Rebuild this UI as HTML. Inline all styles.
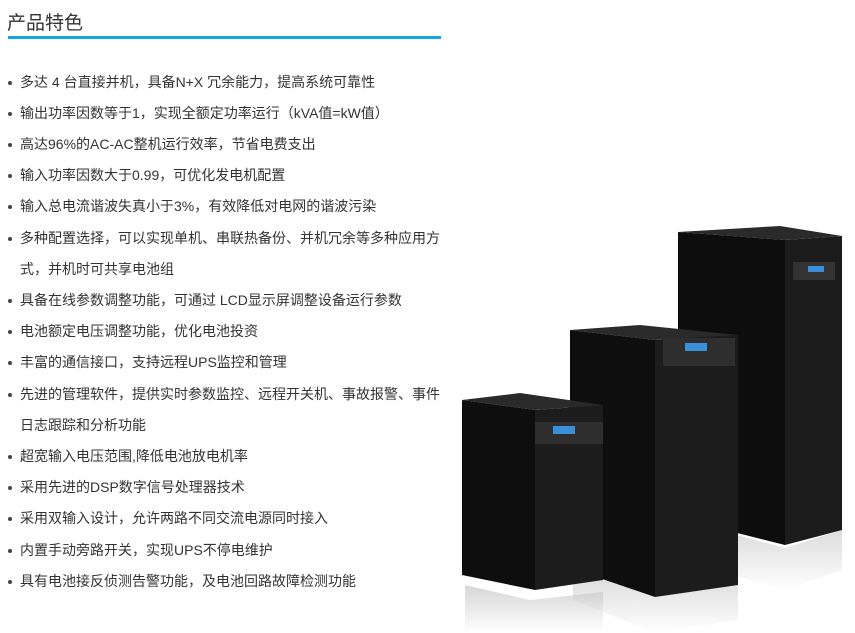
<!DOCTYPE html>
<html><head><meta charset="utf-8"><style>
body{margin:0;width:855px;height:633px;background:#fff;overflow:hidden;position:relative;font-family:"Liberation Sans","Noto Sans CJK SC",sans-serif;}
.t{position:absolute;left:7px;top:8px;font-size:19px;color:#333;}
.bar{position:absolute;left:8px;top:36px;width:433px;height:3px;background:#12a8e6;}
ul{position:absolute;left:0;top:66.5px;margin:0;padding:0;list-style:none;font-size:14px;color:#333;line-height:31.2px;}
li{padding-left:20px;position:relative;white-space:nowrap;}
li.b:before{content:"";position:absolute;left:8px;top:14px;width:4px;height:4px;border-radius:2px;background:#444;}
svg{position:absolute;left:0;top:0;}
</style></head><body>
<div class="t">产品特色</div><div class="bar"></div>
<ul>
<li class="b">多达 4 台直接并机，具备N+X 冗余能力，提高系统可靠性</li>
<li class="b">输出功率因数等于1，实现全额定功率运行（kVA值=kW值）</li>
<li class="b">高达96%的AC-AC整机运行效率，节省电费支出</li>
<li class="b">输入功率因数大于0.99，可优化发电机配置</li>
<li class="b">输入总电流谐波失真小于3%，有效降低对电网的谐波污染</li>
<li class="b">多种配置选择，可以实现单机、串联热备份、并机冗余等多种应用方</li>
<li>式，并机时可共享电池组</li>
<li class="b">具备在线参数调整功能，可通过 LCD显示屏调整设备运行参数</li>
<li class="b">电池额定电压调整功能，优化电池投资</li>
<li class="b">丰富的通信接口，支持远程UPS监控和管理</li>
<li class="b">先进的管理软件，提供实时参数监控、远程开关机、事故报警、事件</li>
<li>日志跟踪和分析功能</li>
<li class="b">超宽输入电压范围,降低电池放电机率</li>
<li class="b">采用先进的DSP数字信号处理器技术</li>
<li class="b">采用双输入设计，允许两路不同交流电源同时接入</li>
<li class="b">内置手动旁路开关，实现UPS不停电维护</li>
<li class="b">具有电池接反侦测告警功能，及电池回路故障检测功能</li>
</ul>
<svg width="855" height="633">
<defs><linearGradient id="r" x1="0" y1="0" x2="0" y2="1"><stop offset="0" stop-color="#bbb"/><stop offset="1" stop-color="#fff"/></linearGradient></defs>
<!-- tall -->
<polygon points="681,520 785,548 842,530 842,570 785,590 681,560" fill="url(#r)" opacity=".6"/>
<polygon points="678,232 780,226 842,236 785,240" fill="#2a2a2a"/>
<polygon points="678,232 785,240 785,545 678,518" fill="#0d0d0d"/>
<polygon points="785,240 842,236 842,530 785,545" fill="#1b1b1b"/>
<rect x="793" y="262" width="42" height="18" fill="#333"/><rect x="808" y="266" width="16" height="6" fill="#3a8fd8"/>
<!-- medium -->
<polygon points="573,565 655,595 738,585 738,620 655,633 573,600" fill="url(#r)" opacity=".6"/>
<polygon points="570,330 640,325 738,335 655,340" fill="#2a2a2a"/>
<polygon points="570,330 655,340 655,597 570,568" fill="#0e0e0e"/>
<polygon points="655,340 738,335 738,585 655,597" fill="#1c1c1c"/>
<rect x="663" y="338" width="72" height="28" fill="#2e2e2e"/><rect x="685" y="343" width="22" height="8" fill="#3a8fd8"/>
<!-- small -->
<polygon points="465,585 530,600 603,592 603,633 465,633" fill="url(#r)" opacity=".6"/>
<polygon points="462,400 520,393 603,405 535,410" fill="#2a2a2a"/>
<polygon points="462,400 535,410 535,590 462,575" fill="#0e0e0e"/>
<polygon points="535,410 603,405 603,580 535,590" fill="#1c1c1c"/>
<rect x="535" y="422" width="68" height="22" fill="#2e2e2e"/><rect x="553" y="426" width="22" height="8" fill="#3a8fd8"/>
</svg>
</body></html>
